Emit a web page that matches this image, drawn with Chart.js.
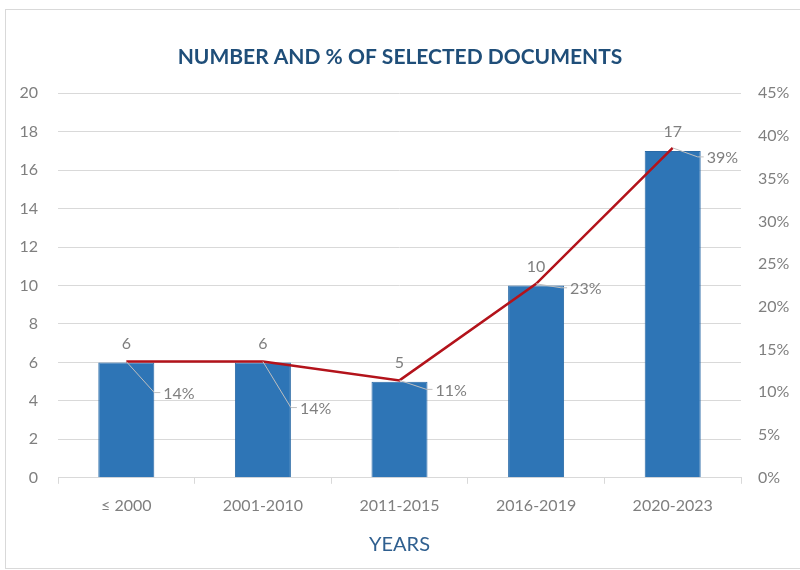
<!DOCTYPE html>
<html>
<head>
<meta charset="utf-8">
<script src="https://cdn.jsdelivr.net/npm/chart.js@4/dist/chart.umd.min.js"></script>
<style>
  html, body { margin: 0; padding: 0; background: #fff; }
  #wrap { position: relative; width: 800px; height: 570px; }
</style>
</head>
<body>
<div id="wrap"><canvas id="chart" width="800" height="570"></canvas></div>
<script>
// chart data
var categories = ['\u2264 2000', '2001-2010', '2011-2015', '2016-2019', '2020-2023'];
var docCounts = [6, 6, 5, 10, 17];
var docShares = [0.136, 0.136, 0.114, 0.227, 0.386];
var countTicks = [0, 2, 4, 6, 8, 10, 12, 14, 16, 18, 20];
var shareTicks = [0, 0.05, 0.10, 0.15, 0.20, 0.25, 0.30, 0.35, 0.40, 0.45];

// where the % labels sit relative to their point (Excel-style callouts)
var shareLabelOffsets = [[37, 31], [37, 46], [36, 9], [34, 4], [34, 9]];

var grey = '#7f7f7f';
var font = 'Lato, "Open Sans", sans-serif';

var frame = {
  id: 'frame',
  beforeDraw: function(chart) {
    var ctx = chart.ctx;
    ctx.save();
    ctx.strokeStyle = '#d9d9d9';
    ctx.lineWidth = 1;
    ctx.strokeRect(5.5, 9.5, 800, 559);
    ctx.restore();
  }
};

var labels = {
  id: 'labels',
  afterDatasetsDraw: function(chart) {
    var ctx = chart.ctx;
    var bars = chart.getDatasetMeta(1).data;
    var pts = chart.getDatasetMeta(0).data;
    ctx.save();
    ctx.font = '16px ' + font;
    ctx.fillStyle = grey;
    ctx.textAlign = 'center';
    ctx.textBaseline = 'middle';
    bars.forEach(function(b, i) {
      ctx.fillText(docCounts[i], b.x, b.y - 19);
    });
    ctx.textAlign = 'left';
    pts.forEach(function(p, i) {
      var o = shareLabelOffsets[i];
      var lx = p.x + o[0], ly = p.y + o[1];
      ctx.strokeStyle = '#bfbfbf';
      ctx.lineWidth = 1;
      ctx.beginPath();
      ctx.moveTo(p.x, p.y);
      ctx.lineTo(lx - 9, ly);
      ctx.lineTo(lx - 3, ly);
      ctx.stroke();
      ctx.fillStyle = grey;
      ctx.fillText(Math.round(docShares[i] * 100) + '%', lx, ly + 1);
    });
    ctx.restore();
  }
};

new Chart(document.getElementById('chart'), {
  data: {
    labels: categories,
    datasets: [
      {
        type: 'line',
        label: '%',
        data: docShares,
        yAxisID: 'y1',
        borderColor: '#b3131b',
        borderWidth: 2.5,
        pointRadius: 0,
        tension: 0,
        order: 0
      },
      {
        type: 'bar',
        label: 'Number',
        data: docCounts,
        yAxisID: 'y',
        backgroundColor: '#2e75b6',
        borderColor: '#2a6aa6',
        borderWidth: 1,
        categoryPercentage: 1,
        barPercentage: 0.41,
        order: 1
      }
    ]
  },
  options: {
    responsive: false,
    animation: false,
    layout: { padding: { left: 6, right: 6, top: 10, bottom: 9 } },
    plugins: {
      legend: { display: false },
      tooltip: { enabled: false },
      title: {
        display: true,
        text: 'NUMBER AND % OF SELECTED DOCUMENTS',
        color: '#1f4e79',
        font: { family: font, size: 21, weight: 'bold' },
        padding: { top: 35, bottom: 23 }
      }
    },
    scales: {
      x: {
        grid: { drawOnChartArea: false, color: '#d9d9d9', tickLength: 6, offset: true },
        border: { color: '#d9d9d9' },
        ticks: { color: grey, font: { family: font, size: 16 }, padding: 12 },
        title: {
          display: true, text: 'YEARS', color: '#2f5f8f',
          font: { family: font, size: 20 }, padding: { top: 6 }
        }
      },
      y: {
        position: 'left',
        min: 0, max: 20,
        afterBuildTicks: function(s) { s.ticks = countTicks.map(function(v) { return { value: v }; }); },
        grid: { color: '#d9d9d9', drawTicks: false },
        border: { display: false },
        ticks: { color: grey, font: { family: font, size: 16 }, padding: 20 },
        afterFit: function(s) { s.width = 52; }
      },
      y1: {
        position: 'right',
        min: 0, max: 0.45,
        afterBuildTicks: function(s) { s.ticks = shareTicks.map(function(v) { return { value: v }; }); },
        grid: { drawOnChartArea: false, drawTicks: false },
        border: { display: false },
        ticks: {
          color: grey, font: { family: font, size: 16 }, padding: 17,
          callback: function(v) { return Math.round(v * 100) + '%'; }
        },
        afterFit: function(s) { s.width = 53; }
      }
    }
  },
  plugins: [frame, labels]
});
</script>
</body>
</html>
